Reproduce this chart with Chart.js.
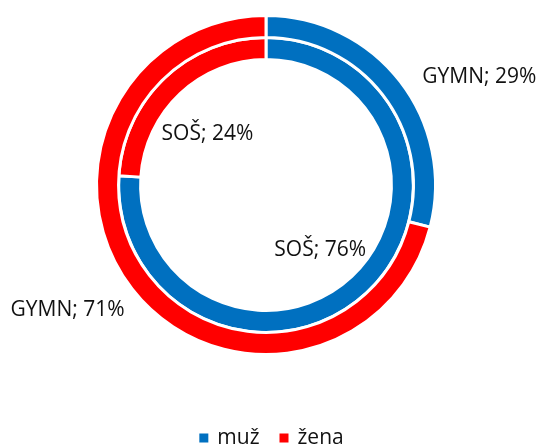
<!DOCTYPE html>
<html>
<head>
<meta charset="utf-8">
<script src="https://cdn.jsdelivr.net/npm/chart.js@4/dist/chart.umd.min.js"></script>
<style>
  html, body { margin: 0; padding: 0; background: #fff; }
  #wrap { width: 543px; height: 447px; }
</style>
</head>
<body>
<div id="wrap"><canvas id="chart" width="543" height="447"></canvas></div>
<script>
// kategorie a hodnoty (vnější kruh GYMN, vnitřní SOŠ)
const categories = ['muž', 'žena'];
const ringNames = ['GYMN', 'SOŠ'];
const gymnValues = [29, 71];
const sosValues = [76, 24];
const colors = ['#0070C0', '#FF0000'];

const FONT = '"Open Sans", "Noto Sans", sans-serif';

// popisky "GYMN; 29%" u každého oblouku
const labelRadius = [[1.41, 1.385], [0.575, 0.525]];  // násobek vnějšího poloměru prstence
const labelAngleShift = [[11, 5.5], [3.5, -6]];        // posun ve stupních

const arcLabels = {
  id: 'arcLabels',
  afterDatasetsDraw(chart) {
    const ctx = chart.ctx;
    ctx.save();
    ctx.font = '21px ' + FONT;
    ctx.fillStyle = '#111';
    ctx.textAlign = 'center';
    ctx.textBaseline = 'middle';
    chart.data.datasets.forEach((ds, di) => {
      const meta = chart.getDatasetMeta(di);
      meta.data.forEach((arc, i) => {
        const p = arc.getProps(['x', 'y', 'startAngle', 'endAngle', 'outerRadius']);
        const mid = (p.startAngle + p.endAngle) / 2 + labelAngleShift[di][i] * Math.PI / 180;
        const r = p.outerRadius * labelRadius[di][i];
        ctx.fillText(ringNames[di] + '; ' + ds.data[i] + '%', p.x + Math.cos(mid) * r, p.y + Math.sin(mid) * r);
      });
    });
    ctx.restore();
  }
};

// legenda dole uprostřed
const bottomLegend = {
  id: 'bottomLegend',
  afterDraw(chart) {
    const ctx = chart.ctx;
    ctx.save();
    ctx.font = '21px ' + FONT;
    ctx.textBaseline = 'middle';
    const box = 9, gap = 9, itemGap = 20;
    const widths = categories.map(c => ctx.measureText(c).width);
    const total = widths.reduce((a, w) => a + box + gap + w, 0) + itemGap * (categories.length - 1);
    let x = chart.width / 2 - total / 2;
    const y = 438;
    categories.forEach((c, i) => {
      ctx.fillStyle = colors[i];
      ctx.fillRect(x, y - box / 2, box, box);
      x += box + gap;
      ctx.fillStyle = '#111';
      ctx.fillText(c, x, y);
      x += widths[i] + itemGap;
    });
    ctx.restore();
  }
};

new Chart(document.getElementById('chart'), {
  type: 'doughnut',
  data: {
    labels: categories,
    datasets: [
      { label: ringNames[0], data: gymnValues, backgroundColor: colors, borderColor: '#fff', borderWidth: 3 },
      { label: ringNames[1], data: sosValues, backgroundColor: colors, borderColor: '#fff', borderWidth: 3 }
    ]
  },
  options: {
    responsive: false,
    animation: false,
    events: [],
    cutout: '74%',
    layout: { padding: { top: 14, bottom: 91, left: 0, right: 11 } },
    plugins: {
      legend: { display: false },
      tooltip: { enabled: false }
    }
  },
  plugins: [arcLabels, bottomLegend]
});
</script>
</body>
</html>
